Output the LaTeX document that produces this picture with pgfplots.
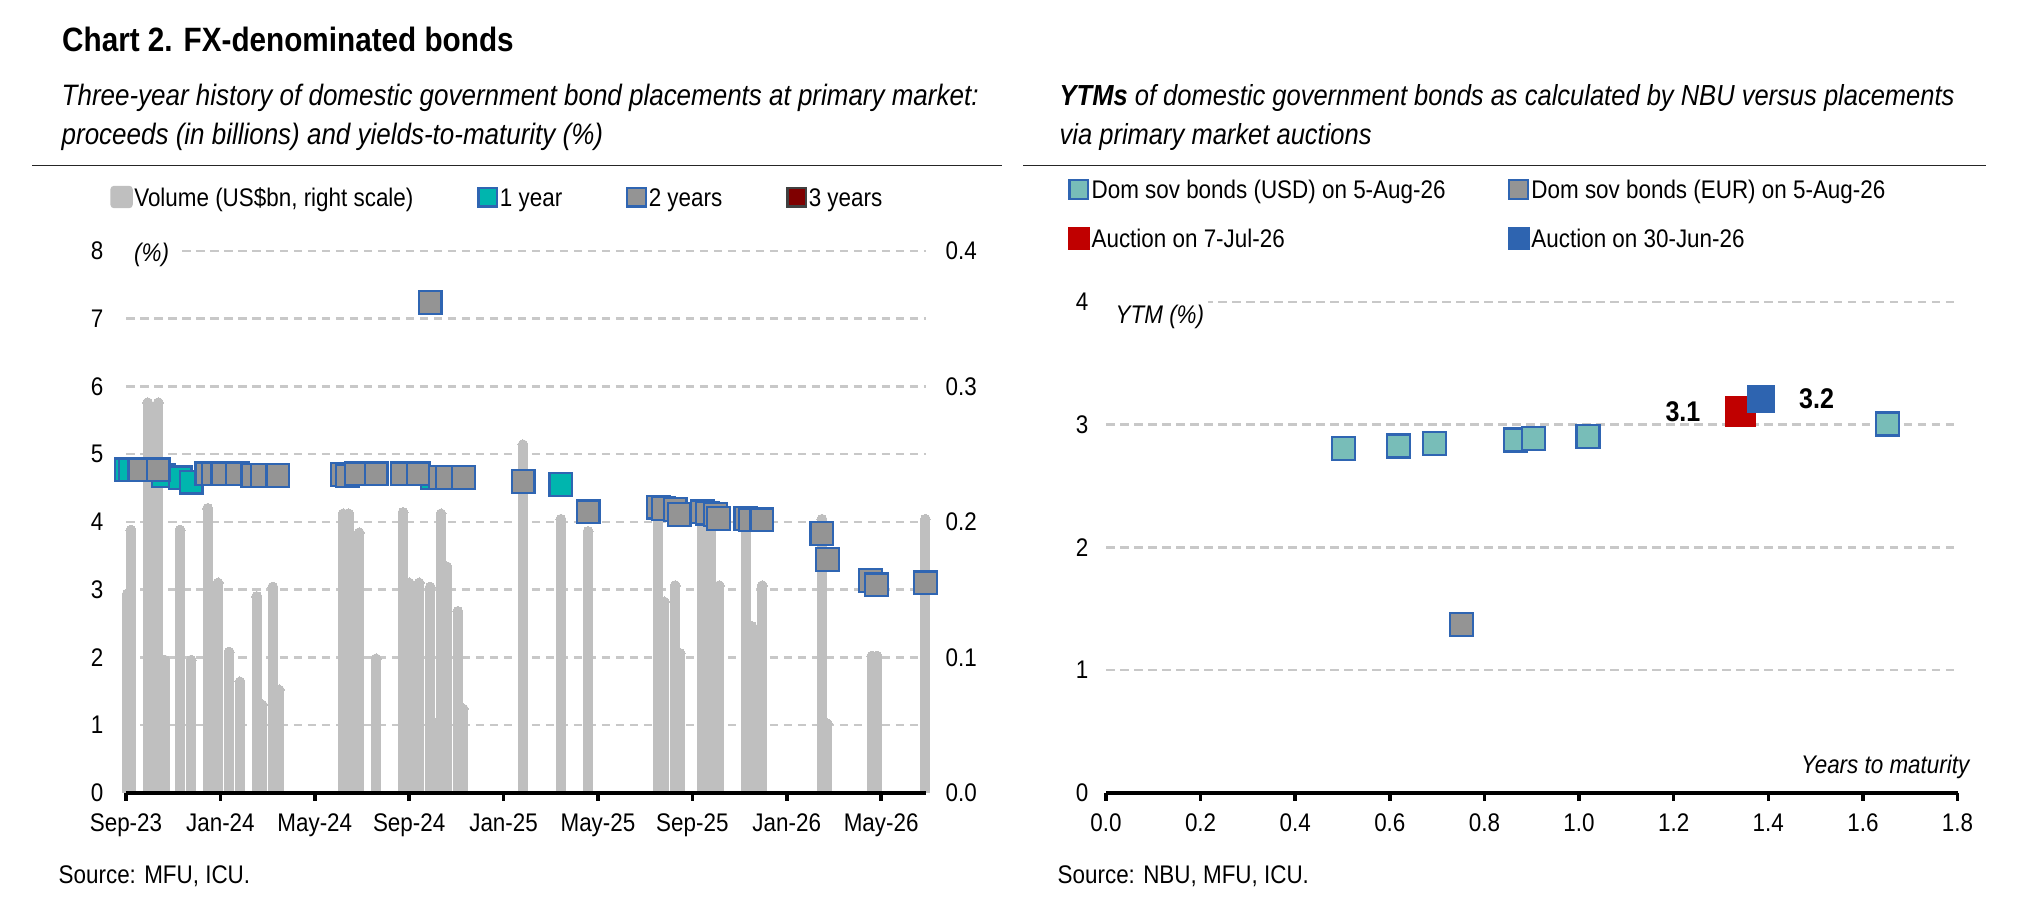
\documentclass[border=0pt]{standalone}
\usepackage{fontspec}
\setmainfont{Liberation Sans}[FakeStretch=0.88]
\usepackage{pgfplots}
\usepackage{pgfplotstable}
\pgfplotsset{compat=1.18}
\definecolor{barGray}{HTML}{BFBFBF}
\definecolor{mkGray}{HTML}{949494}
\definecolor{mkBlue}{HTML}{2F65B2}
\definecolor{tealOne}{HTML}{00B5AE}
\definecolor{usdTeal}{HTML}{78BDB8}
\definecolor{aucRed}{HTML}{C00000}
\definecolor{aucBlue}{HTML}{2E64B0}
\definecolor{darkRed}{HTML}{7F0000}
\definecolor{gridGray}{HTML}{C8C8C8}
\newcommand{\smallfont}{\fontsize{7.25}{8.5}\selectfont}

% volume (US$bn), x = months since Sep-23
\pgfplotstableread{
m v
0.06 0.147
0.21 0.194
0.92 0.288
1.37 0.288
1.65 0.098
2.29 0.194
2.76 0.098
3.46 0.210
3.90 0.155
4.37 0.104
4.83 0.082
5.54 0.145
5.77 0.065
6.22 0.152
6.49 0.076
9.20 0.206
9.44 0.206
9.88 0.192
10.60 0.099
11.74 0.207
12.00 0.155
12.42 0.155
12.89 0.152
12.96 0.052
13.35 0.206
13.59 0.167
14.06 0.134
14.29 0.062
16.82 0.257
18.43 0.202
19.58 0.193
22.55 0.210
22.81 0.141
23.27 0.153
23.48 0.103
24.42 0.207
24.54 0.154
24.80 0.205
25.14 0.153
26.27 0.203
26.52 0.123
26.96 0.153
29.49 0.202
29.72 0.051
31.61 0.101
31.82 0.101
33.87 0.202
}\bars

\pgfplotstableread{
m y
0.00 4.77
0.17 4.77
1.57 4.69
2.29 4.65
2.76 4.59
13.00 4.65
18.43 4.55
}\oneyear

\pgfplotstableread{
m y
0.59 4.77
1.36 4.77
3.43 4.71
3.69 4.71
4.11 4.71
4.71 4.71
5.38 4.69
5.77 4.69
6.44 4.69
9.16 4.70
9.37 4.68
9.75 4.71
10.60 4.71
11.70 4.71
12.38 4.71
12.89 7.24
13.31 4.66
13.61 4.66
14.29 4.66
16.83 4.60
19.58 4.15
22.55 4.22
22.76 4.20
23.27 4.18
23.44 4.11
24.42 4.15
24.63 4.13
24.97 4.11
25.10 4.05
26.27 4.05
26.45 4.03
26.95 4.03
29.49 3.83
29.72 3.45
31.54 3.14
31.79 3.07
33.87 3.10
}\twoyears

\pgfplotstableread{
x y
0.502 2.805
0.618 2.827
0.694 2.845
0.866 2.875
0.904 2.885
1.019 2.903
1.652 3.006
}\usd

\pgfplotstableread{
x y
0.752 1.374
}\eur

\pgfplotsset{
  /pgf/number format/assume math mode=true,
  mygrid/.style={gridGray, line width=0.025cm, dash pattern=on 0.085cm off 0.055cm},
}

\begin{document}
\begin{tikzpicture}
\useasboundingbox (0,0) rectangle (20.22,9.16);

% ---------- headings ----------
\node[anchor=base west, inner sep=0pt, font=\fontsize{9.6}{11}\selectfont\bfseries] at (0.615,8.643) {Chart 2. FX-denominated bonds};
\node[anchor=base west, inner sep=0pt, font=\fontsize{8.4}{10}\selectfont\itshape] at (0.61,8.10) {Three-year history of domestic government bond placements at primary market:};
\node[anchor=base west, inner sep=0pt, font=\fontsize{8.4}{10}\selectfont\itshape] at (0.61,7.71) {proceeds (in billions) and yields-to-maturity (\%)};
\node[anchor=base west, inner sep=0pt, font=\fontsize{8.25}{10}\selectfont\itshape] at (10.59,8.10) {\textbf{YTMs} of domestic government bonds as calculated by NBU versus placements};
\node[anchor=base west, inner sep=0pt, font=\fontsize{8.25}{10}\selectfont\itshape] at (10.59,7.71) {via primary market auctions};
\draw[line width=0.016cm, black!85] (0.32,7.503) -- (10.02,7.503);
\draw[line width=0.016cm, black!85] (10.23,7.503) -- (19.86,7.503);
\node[anchor=base west, inner sep=0pt, font=\smallfont] at (0.58,0.327) {Source: MFU, ICU.};
\node[anchor=base west, inner sep=0pt, font=\smallfont] at (10.57,0.327) {Source: NBU, MFU, ICU.};

% ---------- left chart: volume bars (right scale) ----------
\begin{axis}[
  scale only axis, width=8.0cm, height=5.42cm,
  at={(1.26cm,1.23cm)}, anchor=south west,
  xmin=0, xmax=33.9, ymin=0, ymax=0.4,
  axis x line=none, axis y line*=right,
  y axis line style={draw=none},
  ytick={0,0.1,0.2,0.3,0.4},
  minor ytick={0.05,0.15,0.25,0.35},
  ymajorgrids, yminorgrids,
  major grid style={mygrid}, minor grid style={mygrid},
  major tick length=0pt, minor tick length=0pt,
  yticklabel style={font=\smallfont, inner sep=0pt, anchor=west, xshift=0.19cm,
    /pgf/number format/.cd, fixed, fixed zerofill, precision=1},
  clip=false,
]
\addplot[ycomb, barGray, line width=0.1cm, mark=*, mark size=0.05cm,
  mark options={fill=barGray, draw=barGray, line width=0pt}] table[x=m, y=v] {\bars};
\end{axis}

% ---------- left chart: yields ----------
\begin{axis}[
  scale only axis, width=8.0cm, height=5.42cm,
  at={(1.26cm,1.23cm)}, anchor=south west,
  xmin=0, xmax=33.9, ymin=0, ymax=8,
  axis x line*=bottom, axis y line*=left,
  y axis line style={draw=none},
  x axis line style={line width=0.04cm, -},
  xtick={0,4,8,12,16,20,24,28,32},
  xticklabels={Sep-23,Jan-24,May-24,Sep-24,Jan-25,May-25,Sep-25,Jan-26,May-26},
  xtick align=outside,
  major tick length=0.08cm,
  xtick style={line width=0.035cm, black},
  ytick={0,1,...,8}, ytick style={draw=none},
  yticklabel style={font=\smallfont, inner sep=0pt, anchor=east, xshift=-0.22cm},
  xticklabel style={font=\smallfont, inner sep=0pt, anchor=north, yshift=-0.12cm},
  clip=false,
  legend columns=4,
  legend cell align=left,
  legend style={draw=none, fill=none, inner sep=0pt, at={(-0.0204,1.0996)}, anchor=west,
    font=\smallfont, nodes={inner xsep=0pt, inner ysep=0pt, text height=0.75em, text depth=0.22em},
    /tikz/every even column/.append style={column sep=0.64cm},
    /tikz/every odd column/.append style={column sep=0.015cm}},
]
\addlegendimage{legend image code/.code={\fill[barGray, rounded corners=0.03cm] (0cm,-0.105cm) rectangle (0.21cm,0.105cm);}}
\addlegendentry{Volume (US\$bn, right scale)}
\addlegendimage{legend image code/.code={\filldraw[fill=tealOne, draw=mkBlue, line width=0.022cm] (0.011cm,-0.094cm) rectangle (0.199cm,0.094cm);}}
\addlegendentry{1 year}
\addlegendimage{legend image code/.code={\filldraw[fill=mkGray, draw=mkBlue, line width=0.022cm] (0.011cm,-0.094cm) rectangle (0.199cm,0.094cm);}}
\addlegendentry{2 years}
\addlegendimage{legend image code/.code={\filldraw[fill=darkRed, draw=black!75, line width=0.022cm] (0.011cm,-0.094cm) rectangle (0.199cm,0.094cm);}}
\addlegendentry{3 years}

\addplot[only marks, mark=square*, mark size=0.114cm, color=mkBlue,
  mark options={fill=tealOne, draw=mkBlue, line width=0.022cm}, forget plot] table[x=m, y=y] {\oneyear};
\addplot[only marks, mark=square*, mark size=0.114cm, color=mkBlue,
  mark options={fill=mkGray, draw=mkBlue, line width=0.022cm}, forget plot] table[x=m, y=y] {\twoyears};

\fill[white] ([yshift=0.06cm]axis cs:0,8) rectangle ([xshift=0.54cm, yshift=-0.06cm]axis cs:0,8);
\node[anchor=base west, inner sep=0pt, font=\smallfont\itshape] at ([xshift=0.075cm, yshift=-0.11cm]axis cs:0,8) {(\%)};
\end{axis}

% ---------- right chart ----------
\begin{axis}[
  scale only axis, width=8.515cm, height=4.91cm,
  at={(11.06cm,1.23cm)}, anchor=south west,
  xmin=0, xmax=1.8, ymin=0, ymax=4,
  axis x line*=bottom, axis y line*=left,
  y axis line style={draw=none},
  x axis line style={line width=0.04cm, -},
  xtick={0,0.2,0.4,0.6,0.8,1.0,1.2,1.4,1.6,1.8},
  xtick align=outside,
  major tick length=0.08cm,
  xtick style={line width=0.035cm, black},
  ytick={0,1,2,3,4}, ytick style={draw=none},
  ymajorgrids, major grid style={mygrid},
  yticklabel style={font=\smallfont, inner sep=0pt, anchor=east, xshift=-0.17cm},
  xticklabel style={font=\smallfont, inner sep=0pt, anchor=north, yshift=-0.12cm,
    /pgf/number format/.cd, fixed, fixed zerofill, precision=1},
  clip=false,
  legend columns=2,
  legend cell align=left,
  legend style={draw=none, fill=none, inner sep=0pt, at={(-0.0458,1.179)}, anchor=west,
    font=\smallfont, nodes={inner xsep=0pt, inner ysep=0pt, text height=0.75em, text depth=0.22em},
    /tikz/every even column/.append style={column sep=0.62cm},
    /tikz/every odd column/.append style={column sep=0.015cm},
    /tikz/row sep=0.15cm},
]
\addlegendimage{legend image code/.code={\filldraw[fill=usdTeal, draw=mkBlue, line width=0.022cm] (0.011cm,-0.094cm) rectangle (0.199cm,0.094cm);}}
\addlegendentry{Dom sov bonds (USD) on 5-Aug-26}
\addlegendimage{legend image code/.code={\filldraw[fill=mkGray, draw=mkBlue, line width=0.022cm] (0.011cm,-0.094cm) rectangle (0.199cm,0.094cm);}}
\addlegendentry{Dom sov bonds (EUR) on 5-Aug-26}
\addlegendimage{legend image code/.code={\fill[aucRed] (0cm,-0.105cm) rectangle (0.21cm,0.105cm);}}
\addlegendentry{Auction on 7-Jul-26}
\addlegendimage{legend image code/.code={\fill[aucBlue] (0cm,-0.105cm) rectangle (0.21cm,0.105cm);}}
\addlegendentry{Auction on 30-Jun-26}

\addplot[only marks, mark=square*, mark size=0.115cm, color=mkBlue,
  mark options={fill=usdTeal, draw=mkBlue, line width=0.022cm}, forget plot] table[x=x, y=y] {\usd};
\addplot[only marks, mark=square*, mark size=0.115cm, color=mkBlue,
  mark options={fill=mkGray, draw=mkBlue, line width=0.022cm}, forget plot] table[x=x, y=y] {\eur};
\addplot[only marks, mark=square*, mark size=0.15cm, color=aucRed,
  mark options={fill=aucRed, draw=aucRed, line width=0pt}, forget plot,
  point meta=explicit symbolic, nodes near coords,
  every node near coord/.append style={anchor=east, xshift=-0.4cm, inner sep=0pt, black,
    font=\fontsize{8.1}{10}\selectfont\bfseries}]
  coordinates {(1.341,3.109) [3.1]};
\addplot[only marks, mark=square*, mark size=0.135cm, color=aucBlue,
  mark options={fill=aucBlue, draw=aucBlue, line width=0pt}, forget plot,
  point meta=explicit symbolic, nodes near coords,
  every node near coord/.append style={anchor=west, xshift=0.38cm, inner sep=0pt, black,
    font=\fontsize{8.1}{10}\selectfont\bfseries}]
  coordinates {(1.385,3.21) [3.2]};

\fill[white] ([yshift=0.06cm]axis cs:0,4) rectangle ([xshift=1.02cm, yshift=-0.06cm]axis cs:0,4);
\node[anchor=base west, inner sep=0pt, font=\smallfont\itshape] at ([xshift=0.09cm, yshift=-0.22cm]axis cs:0,4) {YTM (\%)};
\node[anchor=base east, inner sep=0pt, font=\smallfont\itshape] at ([xshift=0.125cm, yshift=0.194cm]axis cs:1.8,0) {Years to maturity};
\end{axis}
\end{tikzpicture}
\end{document}
